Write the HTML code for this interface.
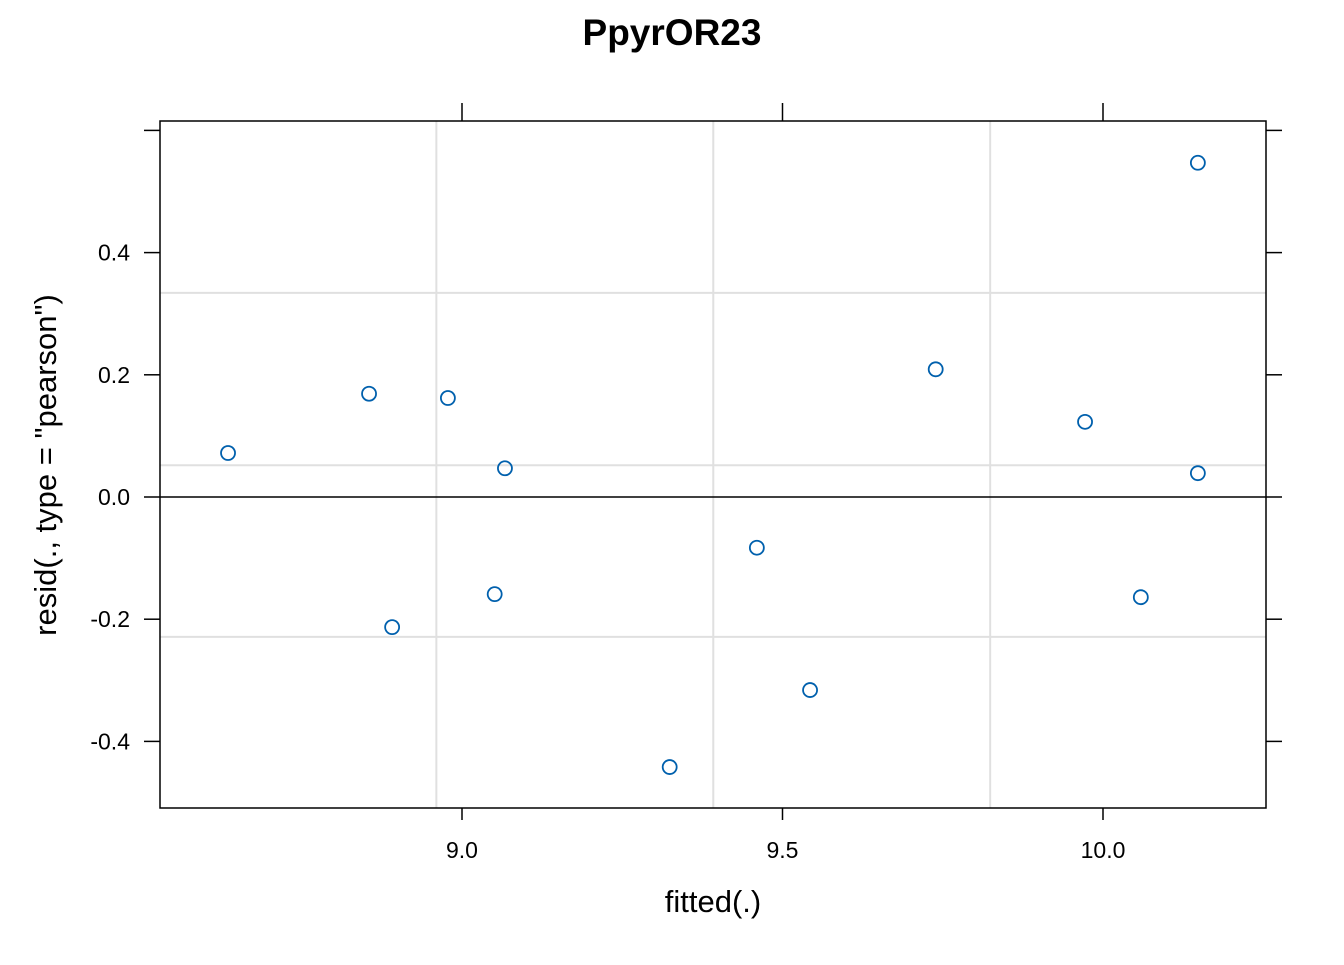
<!DOCTYPE html>
<html><head><meta charset="utf-8"><style>
body{margin:0;background:#fff;}
svg text{font-family:"Liberation Sans",Arial,sans-serif;fill:#000;}
</style></head><body>
<svg id="chart" width="1344" height="960" xmlns="http://www.w3.org/2000/svg">
<text x="672" y="45" text-anchor="middle" font-size="37" font-weight="bold">PpyrOR23</text>
<g id="grid"></g>
<g id="axes"></g>
<g id="points"></g>
<rect x="160" y="121" width="1106" height="687" fill="none" stroke="#000" stroke-width="1.5"/>
<text x="713" y="912" text-anchor="middle" font-size="31">fitted(.)</text>
<text transform="translate(56,465) rotate(-90)" text-anchor="middle" font-size="31">resid(., type = "pearson")</text>
</svg>
<script>
const fitted=[8.635,8.855,8.978,9.067,8.891,9.051,9.324,9.460,9.543,9.739,9.972,10.148,10.148,10.059];
const resid=[0.072,0.169,0.162,0.047,-0.213,-0.159,-0.442,-0.083,-0.316,0.209,0.123,0.547,0.039,-0.164];
const xTicks=[9.0,9.5,10.0];
const xTickLabels=["9.0","9.5","10.0"];
const yTicks=[-0.4,-0.2,0.0,0.2,0.4,0.6];
const yTickLabels=["-0.4","-0.2","0.0","0.2","0.4",""];
const xGrid=[8.96,9.392,9.824];
const yGrid=[0.334,0.052,-0.229];
const NS="http://www.w3.org/2000/svg";
function X(v){return 462+(v-9)*641;}
function Y(v){return 497-v*611;}
function mk(tag,attrs,parent){const e=document.createElementNS(NS,tag);for(const k in attrs)e.setAttribute(k,attrs[k]);parent.appendChild(e);return e;}
const grid=document.getElementById('grid'),axes=document.getElementById('axes'),pts=document.getElementById('points');
xGrid.forEach(v=>{const l=mk('line',{x1:X(v),x2:X(v),y1:121,y2:808,stroke:'#e0e0e0','stroke-width':2},grid);

});
yGrid.forEach(v=>{const l=mk('line',{x1:160,x2:1266,y1:Y(v),y2:Y(v),stroke:'#e0e0e0','stroke-width':2},grid);

});
const z=mk('line',{x1:160,x2:1266,y1:Y(0),y2:Y(0),stroke:'#000','stroke-width':1.5},grid);


xTicks.forEach((v,i)=>{
 mk('line',{x1:X(v),x2:X(v),y1:808,y2:820,stroke:'#000','stroke-width':1.5},axes);
 mk('line',{x1:X(v),x2:X(v),y1:103,y2:121,stroke:'#000','stroke-width':1.5},axes);
 const t=mk('text',{x:X(v),y:858,'text-anchor':'middle','font-size':23},axes);t.textContent=xTickLabels[i];
 
 
});
yTicks.forEach((v,i)=>{
 mk('line',{x1:144,x2:160,y1:Y(v),y2:Y(v),stroke:'#000','stroke-width':1.5},axes);
 mk('line',{x1:1266,x2:1282,y1:Y(v),y2:Y(v),stroke:'#000','stroke-width':1.5},axes);
 if(yTickLabels[i]){const t=mk('text',{x:130,y:Y(v)+8,'text-anchor':'end','font-size':23},axes);t.textContent=yTickLabels[i];
 
 }
});
fitted.forEach((f,i)=>{const c=mk('circle',{cx:X(f),cy:Y(resid[i]),r:7,fill:'none',stroke:'#0060ad','stroke-width':1.8},pts);

});
</script>
</body></html>
